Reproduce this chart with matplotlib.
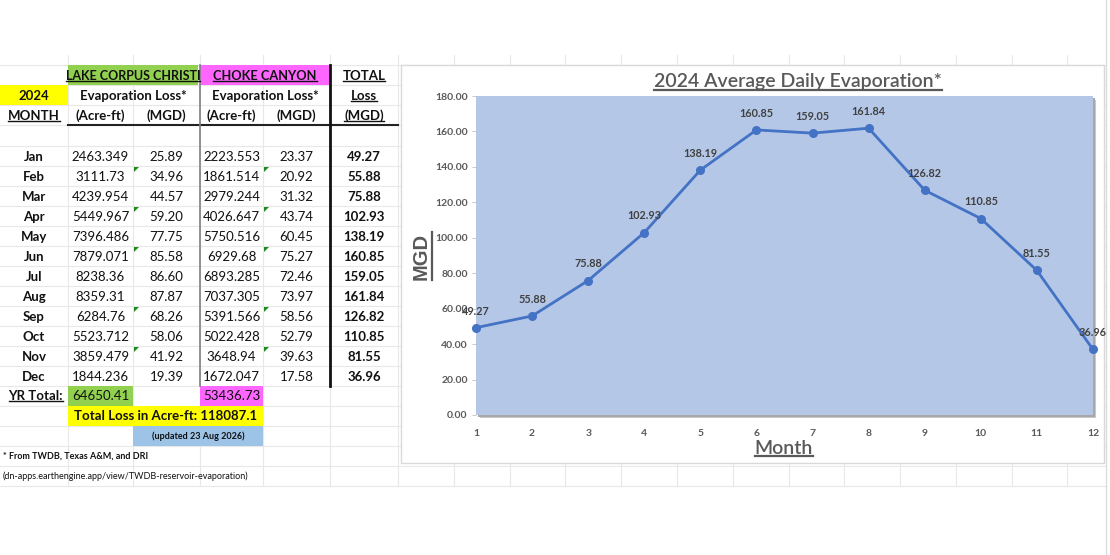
import numpy as np
import matplotlib
matplotlib.use('Agg')
from matplotlib import pyplot as plt
from matplotlib.patches import Rectangle, Polygon
from matplotlib.lines import Line2D

# data read from the sheet
months = ['Jan', 'Feb', 'Mar', 'Apr', 'May', 'Jun', 'Jul', 'Aug', 'Sep', 'Oct', 'Nov', 'Dec']
month_num = [1, 2, 3, 4, 5, 6, 7, 8, 9, 10, 11, 12]
lcc_acre = [2463.349, 3111.73, 4239.954, 5449.967, 7396.486, 7879.071, 8238.36, 8359.31, 6284.76, 5523.712, 3859.479, 1844.236]
lcc_mgd = [25.89, 34.96, 44.57, 59.20, 77.75, 85.58, 86.60, 87.87, 68.26, 58.06, 41.92, 19.39]
cc_acre = [2223.553, 1861.514, 2979.244, 4026.647, 5750.516, 6929.68, 6893.285, 7037.305, 5391.566, 5022.428, 3648.94, 1672.047]
cc_mgd = [23.37, 20.92, 31.32, 43.74, 60.45, 75.27, 72.46, 73.97, 58.56, 52.79, 39.63, 17.58]
total_mgd = [49.27, 55.88, 75.88, 102.93, 138.19, 160.85, 159.05, 161.84, 126.82, 110.85, 81.55, 36.96]
lcc_year = '64650.41'
cc_year = '53436.73'
total_acre = '118087.1'
flag_months = ['Feb', 'Apr', 'Jun', 'Sep', 'Nov']

plt.rcParams['font.family'] = ['Lato', 'DejaVu Sans']

fig = plt.figure(figsize=(11.1, 5.55), dpi=100)
bg = fig.add_axes([0, 0, 1, 1])
bg.set_xlim(0, 1110)
bg.set_ylim(555, 0)
bg.axis('off')

# spreadsheet grid
col_x = [68, 133, 200, 263, 330, 398, 454, 510, 565, 621, 677, 733, 789, 844, 900, 956, 1012, 1067]
row_y = [65, 85, 105, 125] + [146 + 20 * i for i in range(18)]
grid = '#e8e8e8'
for x in col_x:
    bg.plot([x, x], [55, 486], color=grid, lw=0.8, zorder=1)
for y in row_y:
    bg.plot([0, 1106], [y, y], color=grid, lw=0.8, zorder=1)
bg.plot([1106, 1106], [0, 555], color='#dcdcdc', lw=1, zorder=1)

def cell(x0, y0, x1, y1, color):
    bg.add_patch(Rectangle((x0, y0), x1 - x0, y1 - y0, color=color, zorder=2, lw=0))

green = '#92d050'
pink = '#ff66ff'
yellow = '#ffff00'
cell(68, 65, 198, 85, green)
cell(200, 65, 330, 85, pink)
cell(0, 85, 68, 105, yellow)
cell(68, 386, 133, 406, green)
cell(200, 386, 263, 406, pink)
cell(68, 406, 263, 426, yellow)
cell(133, 426, 263, 446, '#9dc3e6')

bg.plot([68, 398], [125, 125], color='#222222', lw=1.5, zorder=3)
bg.plot([200, 200], [65, 386], color='#808080', lw=1.2, zorder=3)
bg.plot([330, 330], [65, 386], color='#111111', lw=2, zorder=3)

ul = []
def txt(x, y, s, size=9.5, bold=False, ha='center', under=False, color='#111111'):
    if bold is True:
        weight = 'bold'
    elif bold:
        weight = bold
    else:
        weight = 'normal'
    t = bg.text(x, y, s, fontsize=size, fontweight=weight,
                ha=ha, va='center', color=color, zorder=4)
    if under:
        ul.append(t)
    return t

# header
txt(133, 76, 'LAKE CORPUS CHRISTI', size=9, bold=True, under=True)
txt(265, 76, 'CHOKE CANYON', size=9.2, bold=True, under=True)
txt(364, 76, 'TOTAL', bold=True, under=True)
txt(34, 96, '2024', bold=True)
txt(133, 96, 'Evaporation Loss*', bold=True)
txt(265, 96, 'Evaporation Loss*', bold=True)
txt(364, 96, 'Loss', bold=True, under=True)
txt(34, 116, 'MONTH', bold=True, under=True)
txt(100.5, 116, '(Acre-ft)', bold=True)
txt(166.5, 116, '(MGD)', bold=True)
txt(231.5, 116, '(Acre-ft)', bold=True)
txt(296.5, 116, '(MGD)', bold=True)
txt(364, 116, '(MGD)', bold=True, under=True)

for i, m in enumerate(months):
    y = 157 + 20 * i
    txt(34, y, m, bold=True)
    txt(100.5, y, str(lcc_acre[i]))
    txt(166.5, y, f'{lcc_mgd[i]:.2f}')
    txt(231.5, y, str(cc_acre[i]))
    txt(296.5, y, f'{cc_mgd[i]:.2f}')
    txt(364, y, f'{total_mgd[i]:.2f}', bold=True)
    if m in flag_months:
        top = 146 + 20 * i + 1
        for fx in (134, 264):
            bg.add_patch(Polygon([[fx, top], [fx + 5, top], [fx, top + 5]], color='#1f8a1f', zorder=4, lw=0))

txt(63, 396, 'YR Total:', bold=True, ha='right', under=True)
txt(100.5, 396, lcc_year)
txt(231.5, 396, cc_year)
txt(165.5, 416, 'Total Loss in Acre-ft: ' + total_acre, bold=True)
txt(198, 436, '(updated 23 Aug 2026)', size=6.5, bold=True)
txt(3, 456, '* From TWDB, Texas A&M, and DRI', size=6.5, bold=True, ha='left')
txt(3, 476, '(dn-apps.earthengine.app/view/TWDB-reservoir-evaporation)', size=6.5, ha='left')

# chart area
bg.add_patch(Rectangle((401, 65), 703, 398, facecolor='white', edgecolor='#d9d9d9', lw=1, zorder=5))
bg.add_patch(Rectangle((480, 100), 616, 318, facecolor='#c8c8c8', lw=0, zorder=6))
bg.add_patch(Rectangle((478, 98), 617, 319, facecolor='#a8a8a8', lw=0, zorder=6))

title = txt(798, 82, '2024 Average Daily Evaporation*', size=14, bold='semibold', color='#595959', under=True)
title.set_zorder(7)
ylab = bg.text(421, 256, 'MGD', fontsize=14.5, fontweight='bold', family='Liberation Sans',
               rotation=90, ha='center', va='center', color='#595959', zorder=7)
xlab = txt(784, 448, 'Month', size=14, bold='semibold', color='#595959', under=True)
xlab.set_zorder(7)

ax = fig.add_axes([476 / 1110, (555 - 415) / 555, (1093 - 476) / 1110, (415 - 96) / 555])
ax.set_facecolor('#b4c7e7')
ax.plot(month_num, total_mgd, color='#4472c4', lw=2, marker='o', markersize=5.5, clip_on=False)
for x, v in zip(month_num, total_mgd):
    ax.annotate(f'{v:.2f}', (x, v), xytext=(0, 12), textcoords='offset points',
                ha='center', va='center', fontsize=7.8, fontweight='bold', color='#404040')
ax.set_xlim(1, 12)
ax.set_ylim(0, 180)
ax.set_xticks(month_num)
ax.set_yticks(np.arange(0, 181, 20))
ax.set_yticklabels([f'{v:.2f}' for v in np.arange(0, 181, 20)])
for s in ax.spines.values():
    s.set_visible(False)
ax.tick_params(axis='y', length=3, width=0.6, color='#bfbfbf', pad=3, labelsize=7.5, labelcolor='#595959')
ax.tick_params(axis='x', length=0, pad=10, labelsize=7.5, labelcolor='#595959')
for lab in ax.get_xticklabels() + ax.get_yticklabels():
    lab.set_fontweight('bold')

# underlines under selected texts
fig.canvas.draw()
r = fig.canvas.get_renderer()
inv = bg.transData.inverted()
for t in ul:
    bb = t.get_window_extent(r)
    (x0, y0), (x1, y1) = inv.transform([[bb.x0, bb.y0], [bb.x1, bb.y1]])
    lw = 1.6 if t.get_fontsize() > 12 else 1.0
    bg.add_line(Line2D([x0, x1], [y0 - 1, y0 - 1], color=t.get_color(), lw=lw, zorder=7))
bb = ylab.get_window_extent(r)
(x0, y0), (x1, y1) = inv.transform([[bb.x0, bb.y0], [bb.x1, bb.y1]])
bg.add_line(Line2D([x1 + 1, x1 + 1], [y0, y1], color='#595959', lw=1.6, zorder=7))

fig.savefig('out.png', dpi=100)
